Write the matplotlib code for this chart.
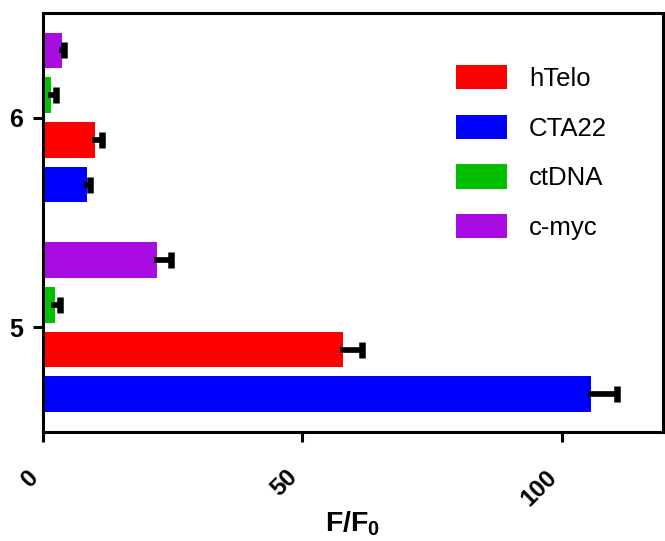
import matplotlib
matplotlib.use('Agg')
import matplotlib.pyplot as plt
from matplotlib.transforms import ScaledTranslation
import numpy as np

plt.rcParams['font.family'] = ['Liberation Sans', 'DejaVu Sans']
plt.rcParams['mathtext.fontset'] = 'custom'
plt.rcParams['mathtext.bf'] = 'Liberation Sans:bold'
plt.rcParams['mathtext.rm'] = 'Liberation Sans:bold'
plt.rcParams['mathtext.default'] = 'bf'

groups = [5, 6]
series = ['CTA22', 'hTelo', 'ctDNA', 'c-myc']
colors = ['#0000FF', '#FF0000', '#00C000', '#A80CE0']
values = {
    'CTA22': [105.6, 8.6],
    'hTelo': [57.8, 10.1],
    'ctDNA': [2.3, 1.7],
    'c-myc': [22.0, 3.7],
}
errors = {
    'CTA22': [5.0, 0.5],
    'hTelo': [3.8, 1.3],
    'ctDNA': [1.1, 0.8],
    'c-myc': [2.7, 0.5],
}
legend_order = ['hTelo', 'CTA22', 'ctDNA', 'c-myc']

fig = plt.figure(figsize=(6.65, 5.41), dpi=100)
ax = fig.add_axes([0.064, 0.2015, 0.933, 0.775])

offsets = [-0.32, -0.107, 0.107, 0.32]
bar_h = 0.17
handles = {}
for name, col, off in zip(series, colors, offsets):
    y = np.array(groups) + off
    v = np.array(values[name])
    e = np.array(errors[name])
    handles[name] = ax.barh(y, v, height=bar_h, color=col, edgecolor='none', zorder=2)
    # one-sided error bar: line from bar end, cap only at the far end
    ax.hlines(y, v - 0.6, v + e, color='black', linewidth=4.1, zorder=3)
    ax.plot(v + e, y, linestyle='none', marker='|', markersize=11,
            markeredgewidth=4.7, color='black', zorder=3)

ax.set_xlim(0, 119.5)
ax.set_ylim(4.5, 6.5)
ax.set_yticks(groups)
ax.set_xticks([0, 50, 100])

for s in ax.spines.values():
    s.set_linewidth(2.2)
ax.tick_params(width=2.2, length=7)
ax.tick_params(axis='y', labelsize=18, pad=7)
ax.tick_params(axis='x', labelsize=17.5, pad=13)
for lab in ax.get_yticklabels():
    lab.set_fontweight('bold')
shift = ScaledTranslation(-0.08, -0.14, fig.dpi_scale_trans)
for lab in ax.get_xticklabels():
    lab.set_fontweight('bold')
    lab.set_rotation(45)
    lab.set_ha('right')
    lab.set_va('center')
    lab.set_rotation_mode('anchor')
    lab.set_transform(lab.get_transform() + shift)

ax.set_xlabel(r'$F/F_0$', fontsize=20.5)
ax.xaxis.set_label_coords(0.5, -0.185)

ax.legend([handles[n] for n in legend_order], legend_order,
          loc='upper left', bbox_to_anchor=(456 / 665, 1 - 65 / 541),
          bbox_transform=fig.transFigure, frameon=False, fontsize=18.5,
          handlelength=1.98, handleheight=1.09, handletextpad=0.86,
          labelspacing=0.92, borderpad=0, borderaxespad=0)

fig.savefig('out.png', dpi=100)
